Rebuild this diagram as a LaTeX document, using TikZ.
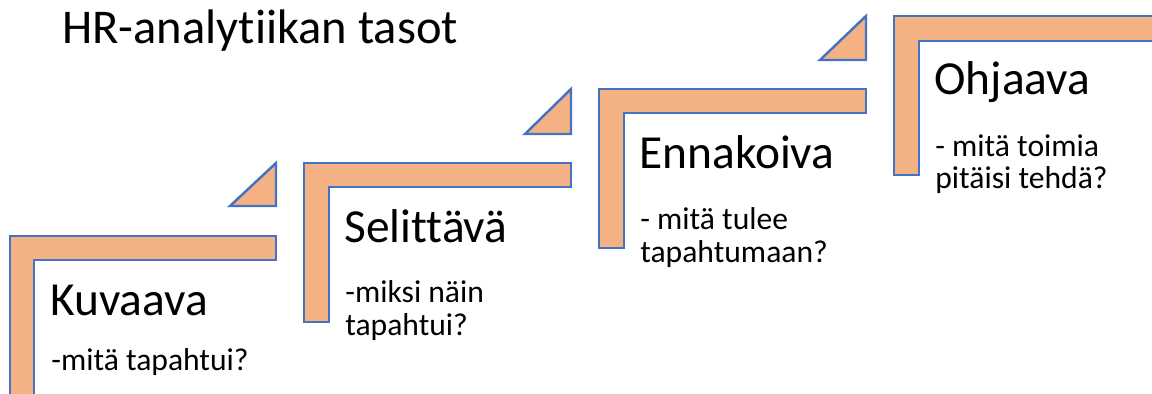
\documentclass[tikz,border=0pt]{standalone}
\usepackage{fontspec}
\setmainfont[Ligatures=NoCommon]{Carlito}
\definecolor{stairfill}{HTML}{F4B183}
\definecolor{stairline}{HTML}{4472C4}
\tikzset{
  stair/.style={fill=stairfill, draw=stairline, line width=1.4pt, line join=miter},
  lvl/.style={anchor=base west, inner sep=0pt, font=\fontsize{27}{32}\selectfont},
  qtext/.style={anchor=base west, inner sep=0pt, font=\fontsize{18}{21}\selectfont},
}
\begin{document}
\begin{tikzpicture}[x=0.02cm, y=-0.02cm]
\useasboundingbox (0,0) rectangle (1152,394);
\clip (0,0) rectangle (1152,394);
% title
\node[anchor=base west, inner sep=0pt, font=\fontsize{27.6}{32}\selectfont] (title) at (62,44) {HR-analytiikan tasot};
% step 1
\draw[stair] (10,236) -- (276,236) -- (276,260) -- (34,260) -- (34,400) -- (10,400) -- cycle;
\draw[stair] (230,206) -- (276,206) -- (276,163) -- cycle;
\node[lvl] (kuv) at (50,316) {Kuvaava};
\node[qtext] (kuv1) at (51,371) {-mitä tapahtui?};
% step 2
\draw[stair] (304,163) -- (571,163) -- (571,187) -- (329,187) -- (329,322) -- (304,322) -- cycle;
\draw[stair] (525,134) -- (571,134) -- (571,89) -- cycle;
\node[lvl] (sel) at (344,243) {Selittävä};
\node[qtext] (sel1) at (345,303) {-miksi näin};
\node[qtext] (sel2) at (345,336) {tapahtui?};
% step 3
\draw[stair] (599,89) -- (866,89) -- (866,113) -- (624,113) -- (624,248) -- (599,248) -- cycle;
\draw[stair] (820,60) -- (866,60) -- (866,16) -- cycle;
\node[lvl] (enn) at (639,169) {Ennakoiva};
\node[qtext] (enn1) at (640,230) {- mitä tulee};
\node[qtext] (enn2) at (640,263) {tapahtumaan?};
% step 4
\draw[stair] (894,16) -- (1170,16) -- (1170,41) -- (919,41) -- (919,175) -- (894,175) -- cycle;
\node[lvl] (ohj) at (934,95) {Ohjaava};
\node[qtext] (ohj1) at (935,157) {- mitä toimia};
\node[qtext] (ohj2) at (935,189) {pitäisi tehdä?};
\end{tikzpicture}
\end{document}
